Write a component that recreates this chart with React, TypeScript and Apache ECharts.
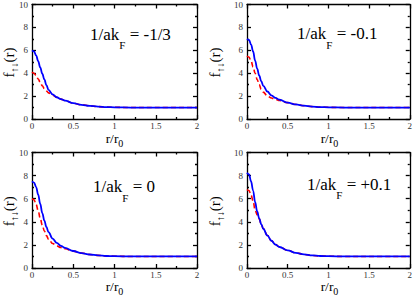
import React, { useEffect, useRef } from "react";
import * as echarts from "echarts";

const rVals = [0, 0.025, 0.05, 0.075, 0.1, 0.125, 0.15, 0.175, 0.2, 0.25, 0.3, 0.35, 0.4, 0.5, 0.6, 0.7, 0.8, 0.9, 1.0, 1.2, 1.5, 2.0];

const blue1 = [6.0, 5.9, 5.55, 5.05, 4.5, 3.95, 3.45, 2.95, 2.55, 2.15, 1.9, 1.74, 1.61, 1.38, 1.24, 1.15, 1.08, 1.04, 1.02, 1.0, 1.0, 1.0];
const red1 = [4.1, 4.0, 3.8, 3.5, 3.2, 2.9, 2.65, 2.45, 2.28, 2.08, 1.89, 1.74, 1.61, 1.38, 1.24, 1.15, 1.08, 1.04, 1.02, 1.0, 1.0, 1.0];

const blue2 = [7.0, 6.9, 6.5, 5.9, 5.1, 4.4, 3.8, 3.3, 2.9, 2.4, 2.07, 1.84, 1.68, 1.43, 1.27, 1.16, 1.08, 1.04, 1.02, 1.0, 1.0, 1.0];
const red2 = [5.5, 5.4, 5.05, 4.55, 4.0, 3.45, 3.0, 2.6, 2.35, 2.02, 1.83, 1.71, 1.62, 1.43, 1.27, 1.16, 1.08, 1.04, 1.02, 1.0, 1.0, 1.0];

const blue3 = [7.5, 7.4, 7.0, 6.35, 5.55, 4.75, 4.1, 3.55, 3.1, 2.55, 2.17, 1.92, 1.74, 1.47, 1.29, 1.17, 1.09, 1.04, 1.02, 1.0, 1.0, 1.0];
const red3 = [6.0, 5.9, 5.5, 4.95, 4.3, 3.7, 3.2, 2.8, 2.5, 2.12, 1.91, 1.77, 1.67, 1.46, 1.29, 1.17, 1.09, 1.04, 1.02, 1.0, 1.0, 1.0];

const blue4 = [8.25, 8.1, 7.5, 6.7, 5.7, 4.9, 4.3, 3.8, 3.4, 2.82, 2.36, 2.03, 1.82, 1.53, 1.31, 1.18, 1.09, 1.04, 1.02, 1.0, 1.0, 1.0];
const red4 = [6.8, 6.7, 6.3, 5.8, 5.0, 4.6, 4.25, 3.8, 3.4, 2.82, 2.36, 2.03, 1.82, 1.53, 1.31, 1.18, 1.09, 1.04, 1.02, 1.0, 1.0, 1.0];

const panelLabels = ["-1/3", "-0.1", "0", "+0.1"];
const xTicks = { min: 0, max: 2, interval: 0.5 };
const yTicks = { min: 0, max: 10, interval: 2 };

const FAM = "'Liberation Serif', 'Times New Roman', serif";

let ctx: CanvasRenderingContext2D | null = null;
function tw(s: string, size: number) {
  if (!ctx) ctx = document.createElement("canvas").getContext("2d");
  ctx!.font = `${size}px 'Liberation Serif', serif`;
  return ctx!.measureText(s).width;
}

type Part = [string, boolean];
// builds texts along local x, baseline at local y=0
function partsTexts(parts: Part[], main: number, sub: number, subDrop: number) {
  let x = 0;
  const out: any[] = [];
  parts.forEach(([s, isSub]) => {
    const size = isSub ? sub : main;
    const base = isSub ? subDrop : 0;
    out.push({
      type: "text", x, y: base - 0.305 * size, silent: true,
      style: { text: s, fontSize: size, fontFamily: FAM, fill: "#000", align: "left", verticalAlign: "middle" },
    });
    x += tw(s, size);
  });
  return { children: out, width: x };
}

export default function App() {
  const ref = useRef<HTMLDivElement>(null);
  useEffect(() => {
    document.body.style.margin = "0";
    const chart = echarts.init(ref.current!, null, { renderer: "svg" });
    const grids = [
      { left: 32, top: 4, width: 165, height: 115 },
      { left: 247, top: 4, width: 165, height: 115 },
      { left: 32, top: 152.5, width: 165, height: 115.5 },
      { left: 247, top: 152.5, width: 165, height: 115.5 },
    ];
    const blues = [blue1, blue2, blue3, blue4];
    const reds = [red1, red2, red3, red4];
    const lineStyle = { color: "#000", width: 1.3 };
    const xAxis: any[] = [];
    const yAxis: any[] = [];
    const series: any[] = [];
    const graphic: any[] = [];
    const xNameBase = [142.5, 142.5, 291, 291];
    const yNameBase = [14, 219.5, 14, 219.5];
    const annPos = [[90, 39.3], [297, 39], [93, 192], [307, 189.5]];
    grids.forEach((g, i) => {
      xAxis.push({
        type: "value", gridIndex: i, ...xTicks, position: "bottom",
        axisLine: { lineStyle, onZero: false },
        axisTick: { inside: true, length: 4, lineStyle },
        minorTick: { show: true, splitNumber: 2, length: 2, lineStyle },
        splitLine: { show: false },
        axisLabel: { fontSize: 9, color: "#333", fontFamily: FAM, margin: 2 },
      });
      xAxis.push({
        type: "value", gridIndex: i, ...xTicks, position: "top",
        axisLine: { lineStyle, onZero: false },
        axisTick: { inside: true, length: 4, lineStyle },
        minorTick: { show: true, splitNumber: 2, length: 2, lineStyle },
        splitLine: { show: false }, axisLabel: { show: false },
      });
      yAxis.push({
        type: "value", gridIndex: i, ...yTicks, position: "left",
        axisLine: { lineStyle, onZero: false },
        axisTick: { inside: true, length: 4, lineStyle },
        minorTick: { show: true, splitNumber: 2, length: 2, lineStyle },
        splitLine: { show: false },
        axisLabel: { fontSize: 9, color: "#333", fontFamily: FAM, margin: 4 },
      });
      yAxis.push({
        type: "value", gridIndex: i, ...yTicks, position: "right",
        axisLine: { lineStyle, onZero: false },
        axisTick: { inside: true, length: 4, lineStyle },
        minorTick: { show: true, splitNumber: 2, length: 2, lineStyle },
        splitLine: { show: false }, axisLabel: { show: false },
      });
      series.push({
        type: "line", xAxisIndex: 2 * i, yAxisIndex: 2 * i, smooth: 0.4, smoothMonotone: "x", showSymbol: false,
        data: rVals.map((r, k) => [r, reds[i][k]]),
        lineStyle: { color: "#ff0000", width: 1.6, type: [5, 3] },
      });
      series.push({
        type: "line", xAxisIndex: 2 * i, yAxisIndex: 2 * i, smooth: 0.4, smoothMonotone: "x", showSymbol: false,
        data: rVals.map((r, k) => [r, blues[i][k]]),
        lineStyle: { color: "#0000ff", width: 1.8 },
      });

      // annotation
      const ann = partsTexts([["1/ak", false], ["F", true], [" = " + panelLabels[i], false]], 17, 11, 9);
      graphic.push({ type: "group", x: annPos[i][0], y: annPos[i][1], children: ann.children, z: 10 });

      // x-axis name
      const xn = partsTexts([["r/r", false], ["0", true]], 13.5, 10, 4);
      graphic.push({ type: "group", x: g.left + g.width / 2 - xn.width / 2, y: xNameBase[i], children: xn.children });

      // y-axis name (rotated)
      const yn = partsTexts([["f", false], ["↑↓", true], ["(r)", false]], 15, 10, 4);
      const cy = g.top + g.height / 2 + 1;
      graphic.push({ type: "group", x: yNameBase[i], y: cy + yn.width / 2, rotation: Math.PI / 2, children: yn.children });
    });
    chart.setOption({
      animation: false,
      grid: grids,
      xAxis, yAxis, series, graphic,
    });
    return () => chart.dispose();
  }, []);
  return <div ref={ref} style={{ width: 415, height: 298, position: "absolute", left: 0, top: 0, background: "#fff" }} />;
}
